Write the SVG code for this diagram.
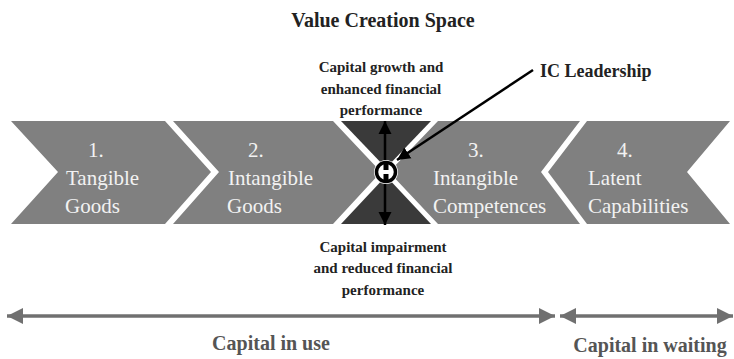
<svg xmlns="http://www.w3.org/2000/svg" width="734" height="359" viewBox="0 0 734 359">
<style>
.chev{fill:#808080}
.dark{fill:#3a3a3a}
.ct{font-family:"Liberation Serif","Times New Roman",serif;font-size:21px;fill:#f2f2f2}
.lb{font-family:"Liberation Serif","Times New Roman",serif;font-weight:bold;fill:#222;text-anchor:middle}
.bl{font-family:"Liberation Serif","Times New Roman",serif;font-weight:bold;font-size:20px;fill:#555;text-anchor:middle}
.gl{stroke:#707070;stroke-width:3.5;fill:none}
.bk{stroke:#000;stroke-width:2.5;fill:none}
</style>
<defs>
<marker id="ga" markerUnits="userSpaceOnUse" markerWidth="18" markerHeight="18" refX="16" refY="9" orient="auto-start-reverse">
<path d="M0,1 L16,9 L0,17 Z" fill="#707070"/>
</marker>
<marker id="ba" markerUnits="userSpaceOnUse" markerWidth="14" markerHeight="14" refX="13" refY="7" orient="auto-start-reverse">
<path d="M0,0.5 L13,7 L0,13.5 Z" fill="#000"/>
</marker>
</defs>
<text class="lb" x="383" y="27" font-size="20">Value Creation Space</text>
<g id="chev1">
<polygon class="chev" points="11,121 165,121 211,172 165,224 11,224 58,172"/>
<text class="ct" x="88" y="157">1.</text>
<text class="ct" x="66" y="185">Tangible</text>
<text class="ct" x="65" y="213">Goods</text>
</g>
<g id="chev2">
<polygon class="chev" points="173,121 333,121 381,172 333,224 173,224 219,172"/>
<text class="ct" x="248" y="157">2.</text>
<text class="ct" x="228" y="185">Intangible</text>
<text class="ct" x="227" y="213">Goods</text>
</g>
<g id="center">
<polygon class="dark" points="341,121 431,121 386,168"/>
<polygon class="dark" points="341,224 431,224 386,176"/>
</g>
<g id="chev3">
<polygon class="chev" points="438,121 580,121 541,172 580,224 438,224 389,172"/>
<text class="ct" x="468" y="157">3.</text>
<text class="ct" x="433" y="185">Intangible</text>
<text class="ct" x="433" y="213">Competences</text>
</g>
<g id="chev4">
<polygon class="chev" points="587,121 730,121 687,172 730,224 587,224 548,172"/>
<text class="ct" x="617" y="157">4.</text>
<text class="ct" x="588" y="185">Latent</text>
<text class="ct" x="588" y="213">Capabilities</text>
</g>
<g id="growth">
<text class="lb" x="381" y="72" font-size="15">Capital growth and</text>
<text class="lb" x="381" y="94" font-size="15">enhanced financial</text>
<text class="lb" x="381" y="115" font-size="15">performance</text>
</g>
<g id="impairment">
<text class="lb" x="383" y="252" font-size="15">Capital impairment</text>
<text class="lb" x="383" y="273" font-size="15">and reduced financial</text>
<text class="lb" x="383" y="295" font-size="15">performance</text>
</g>
<g id="leadership">
<text class="lb" x="540" y="77" font-size="18" text-anchor="start" style="text-anchor:start">IC Leadership</text>
</g>
<g id="connectors">
<line class="bk" x1="385" y1="162" x2="385" y2="121" stroke-width="3" marker-end="url(#ba)"/>
<line class="bk" x1="385" y1="182" x2="385" y2="225" stroke-width="3" marker-end="url(#ba)"/>
<line class="bk" x1="533" y1="70" x2="397" y2="160" marker-end="url(#ba)"/>
<line class="gl" x1="7" y1="316" x2="555" y2="316" marker-start="url(#ga)" marker-end="url(#ga)"/>
<line class="gl" x1="560" y1="316" x2="733" y2="316" marker-start="url(#ga)" marker-end="url(#ga)"/>
</g>
<g id="ic-node">
<circle cx="386" cy="172" r="12" fill="#fff" stroke="none"/>
<circle cx="386" cy="172" r="9.5" fill="#fff" stroke="#000" stroke-width="3.5"/>
<rect x="383.5" y="164" width="5" height="6" fill="#000"/>
<rect x="383.5" y="174" width="5" height="6" fill="#000"/>
</g>
<text class="bl" x="271" y="350">Capital in use</text>
<text class="bl" x="650" y="352">Capital in waiting</text>
</svg>
